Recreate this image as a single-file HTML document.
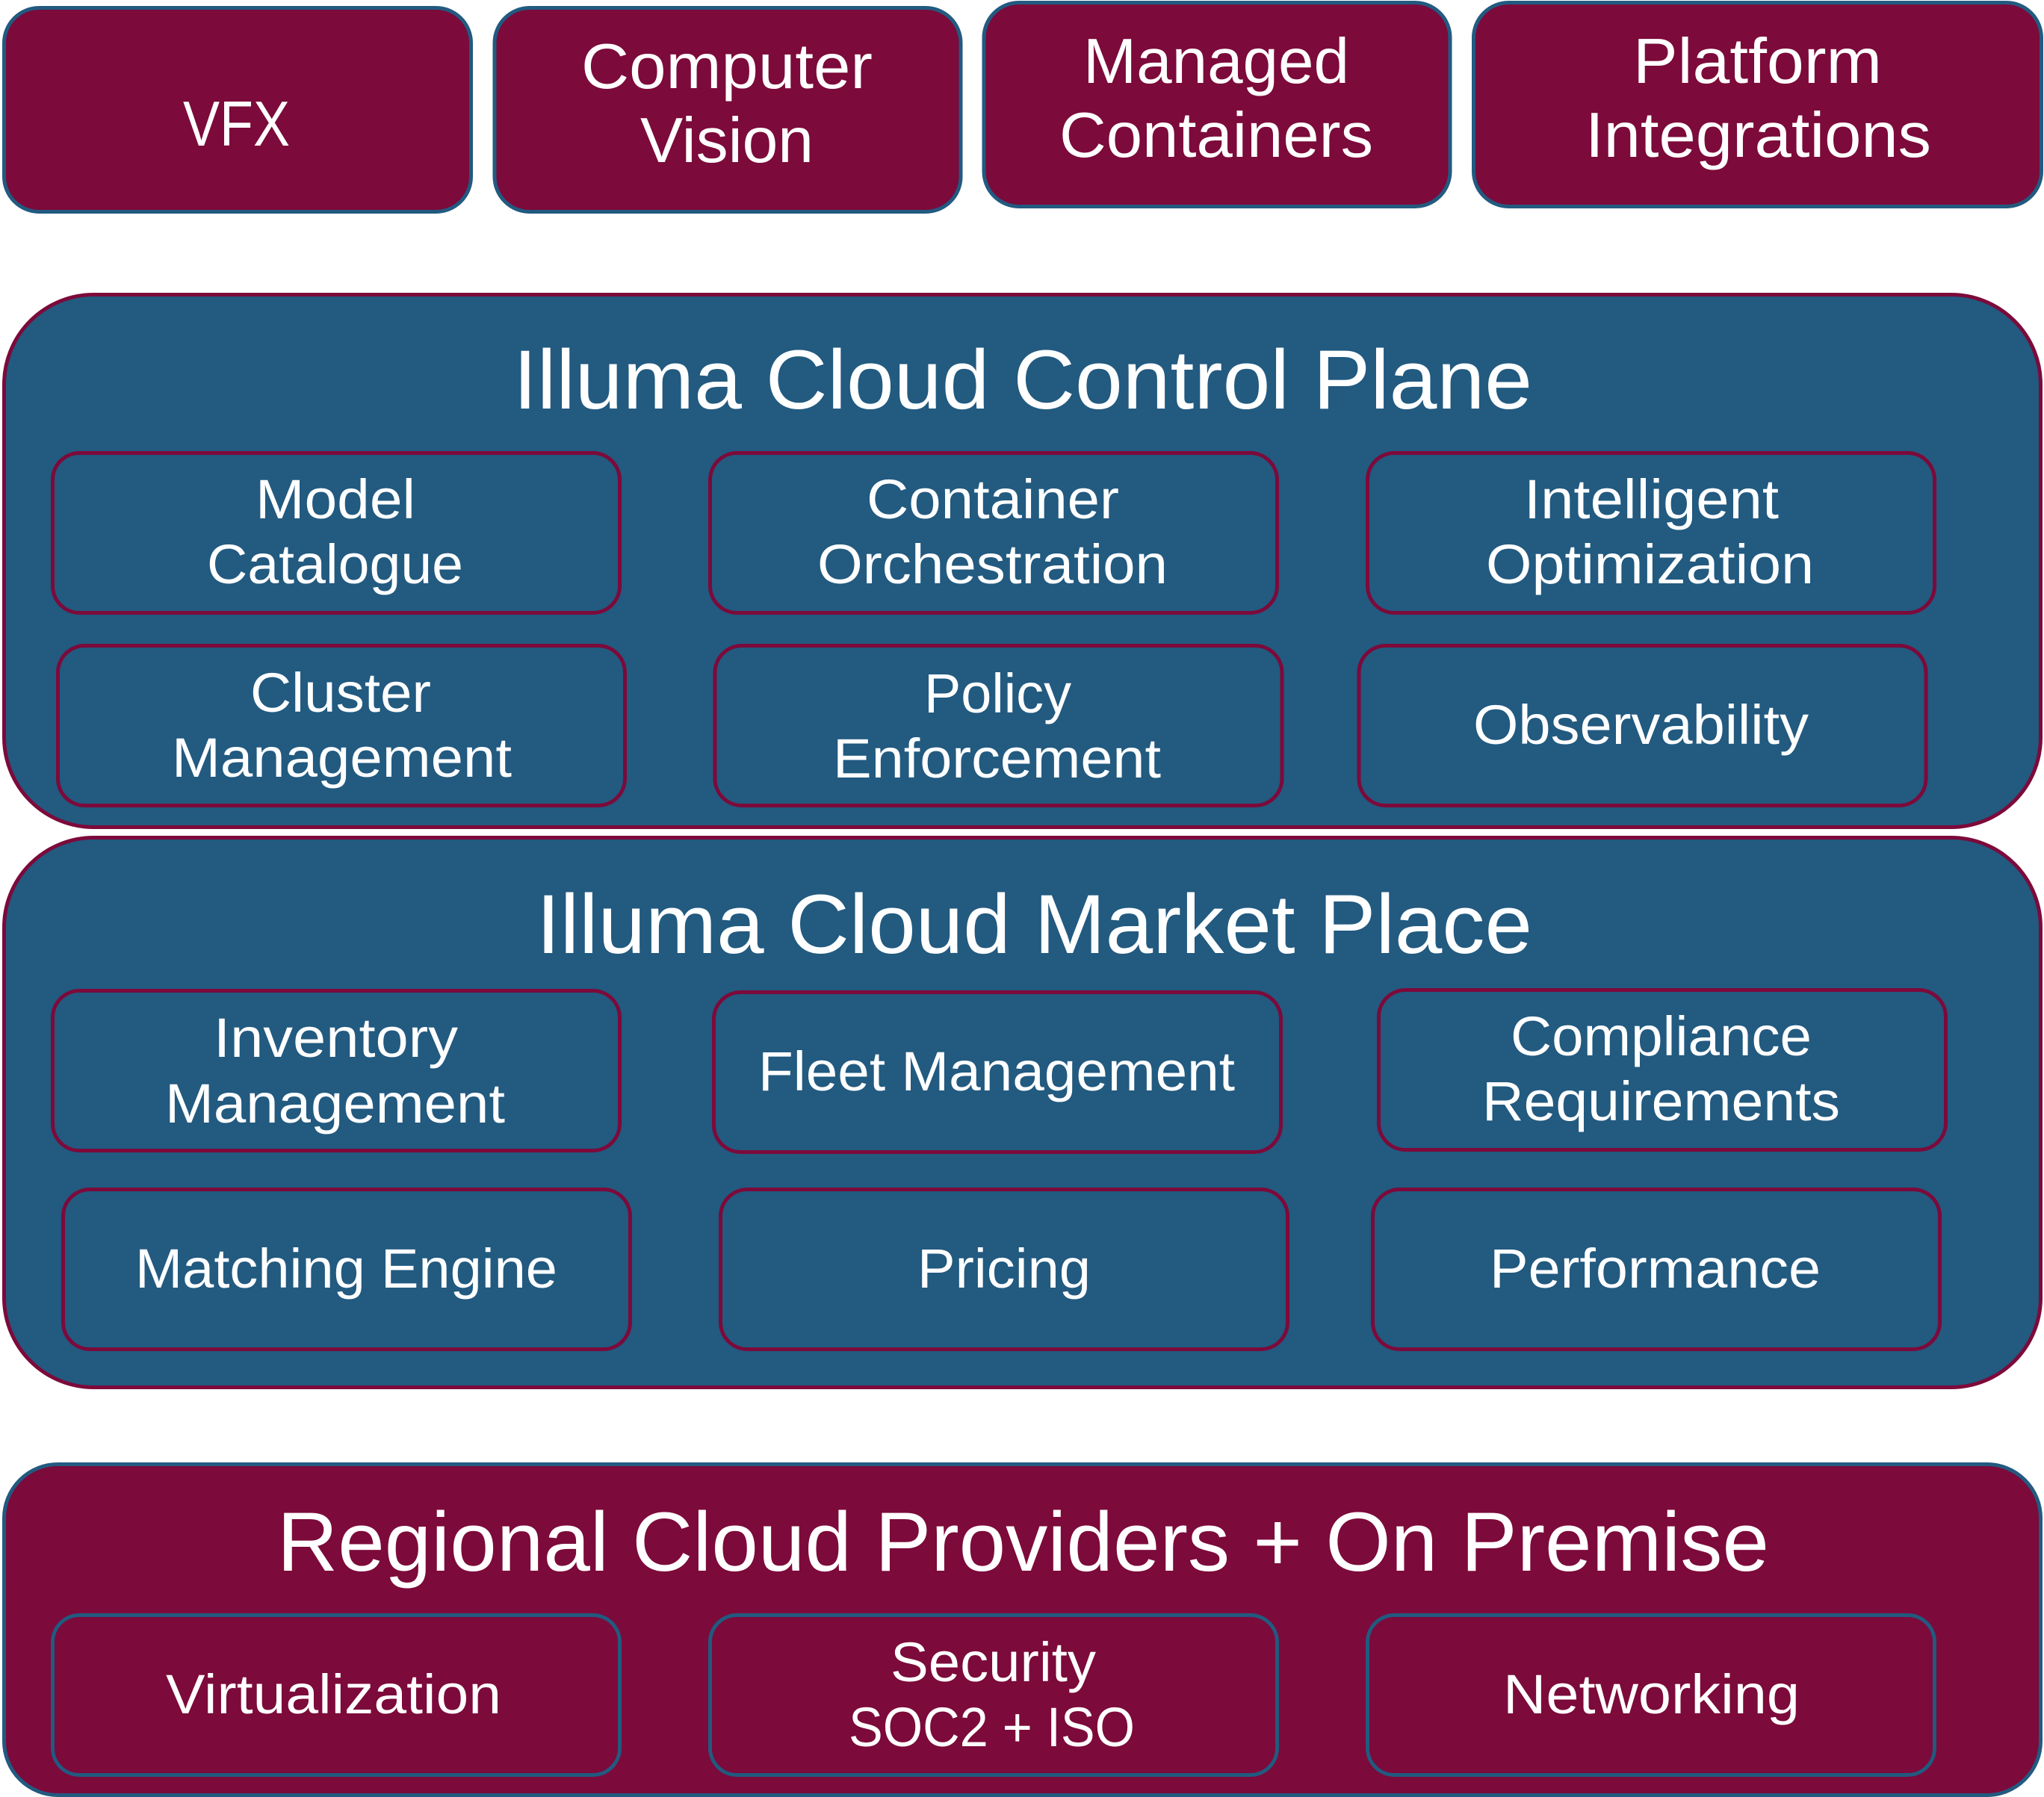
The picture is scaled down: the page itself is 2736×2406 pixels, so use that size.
<!DOCTYPE html>
<html lang="en">
<head>
<meta charset="utf-8">
<title>Illuma Cloud Architecture</title>
<style>
html,body{margin:0;padding:0;background:#fff;}
svg{display:block;}
text{font-family:"Liberation Sans",sans-serif;fill:#fff;}
.t{font-size:85px;}
.h{font-size:112px;}
.s{font-size:74px;}
.b{fill:#225A80;stroke:#7C0A3A;stroke-width:5;}
.m{fill:#7C0A3A;stroke:#225A80;stroke-width:5;}
</style>
</head>
<body>
<svg xmlns="http://www.w3.org/2000/svg" width="2736" height="2406" viewBox="0 0 2736 2406">
<rect width="2736" height="2406" fill="#fff"/>
<!-- Top row -->
<rect class="m" x="5.5" y="10.5" width="625" height="273" rx="47"/>
<rect class="m" x="662" y="10.5" width="624" height="273" rx="47"/>
<rect class="m" x="1317" y="3.5" width="624" height="273" rx="47"/>
<rect class="m" x="1972.5" y="3.5" width="760" height="273" rx="47"/>
<text class="t" x="245" y="195" textLength="143" lengthAdjust="spacingAndGlyphs">VFX</text>
<text class="t" x="778" y="118" textLength="390" lengthAdjust="spacingAndGlyphs">Computer</text>
<text class="t" x="857" y="217" textLength="232" lengthAdjust="spacingAndGlyphs">Vision</text>
<text class="t" x="1450" y="111" textLength="356" lengthAdjust="spacingAndGlyphs">Managed</text>
<text class="t" x="1418" y="210" textLength="420" lengthAdjust="spacingAndGlyphs">Containers</text>
<text class="t" x="2186" y="111" textLength="333" lengthAdjust="spacingAndGlyphs">Platform</text>
<text class="t" x="2122" y="210" textLength="463" lengthAdjust="spacingAndGlyphs">Integrations</text>

<!-- Control Plane -->
<rect class="b" x="5.5" y="394.5" width="2726" height="713" rx="120"/>
<text class="h" x="687" y="547" textLength="1364" lengthAdjust="spacingAndGlyphs">Illuma Cloud Control Plane</text>
<rect class="b" x="70.5" y="606.5" width="759" height="214" rx="36"/>
<rect class="b" x="950.5" y="606.5" width="759" height="214" rx="36"/>
<rect class="b" x="1830.5" y="606.5" width="759" height="214" rx="36"/>
<rect class="b" x="77.5" y="864.5" width="759" height="214" rx="36"/>
<rect class="b" x="957" y="864.5" width="759" height="214" rx="36"/>
<rect class="b" x="1819" y="864.5" width="759" height="214" rx="36"/>
<text class="s" x="342" y="694" textLength="214" lengthAdjust="spacingAndGlyphs">Model</text>
<text class="s" x="277" y="781" textLength="343" lengthAdjust="spacingAndGlyphs">Catalogue</text>
<text class="s" x="1160" y="694" textLength="338" lengthAdjust="spacingAndGlyphs">Container</text>
<text class="s" x="1094" y="781" textLength="469" lengthAdjust="spacingAndGlyphs">Orchestration</text>
<text class="s" x="2040" y="694" textLength="341" lengthAdjust="spacingAndGlyphs">Intelligent</text>
<text class="s" x="1989" y="781" textLength="439" lengthAdjust="spacingAndGlyphs">Optimization</text>
<text class="s" x="335" y="953" textLength="242" lengthAdjust="spacingAndGlyphs">Cluster</text>
<text class="s" x="230" y="1040" textLength="455" lengthAdjust="spacingAndGlyphs">Management</text>
<text class="s" x="1237" y="954" textLength="197" lengthAdjust="spacingAndGlyphs">Policy</text>
<text class="s" x="1115" y="1041" textLength="439" lengthAdjust="spacingAndGlyphs">Enforcement</text>
<text class="s" x="1972" y="996" textLength="449" lengthAdjust="spacingAndGlyphs">Observability</text>

<!-- Market Place -->
<rect class="b" x="5.5" y="1121.5" width="2726" height="736" rx="120"/>
<text class="h" x="718" y="1276" textLength="1333" lengthAdjust="spacingAndGlyphs">Illuma Cloud Market Place</text>
<rect class="b" x="70.5" y="1326.5" width="759" height="214" rx="36"/>
<rect class="b" x="955.5" y="1328.5" width="759" height="214" rx="36"/>
<rect class="b" x="1845.5" y="1325.5" width="759" height="214" rx="36"/>
<rect class="b" x="84.5" y="1592.5" width="759" height="214" rx="36"/>
<rect class="b" x="964.5" y="1592.5" width="759" height="214" rx="36"/>
<rect class="b" x="1837.5" y="1592.5" width="759" height="214" rx="36"/>
<text class="s" x="286" y="1415" textLength="327" lengthAdjust="spacingAndGlyphs">Inventory</text>
<text class="s" x="221" y="1503" textLength="455" lengthAdjust="spacingAndGlyphs">Management</text>
<text class="s" x="1015" y="1460" textLength="638" lengthAdjust="spacingAndGlyphs">Fleet Management</text>
<text class="s" x="2022" y="1413" textLength="403" lengthAdjust="spacingAndGlyphs">Compliance</text>
<text class="s" x="1984" y="1500" textLength="479" lengthAdjust="spacingAndGlyphs">Requirements</text>
<text class="s" x="181" y="1724" textLength="565" lengthAdjust="spacingAndGlyphs">Matching Engine</text>
<text class="s" x="1228" y="1724" textLength="232" lengthAdjust="spacingAndGlyphs">Pricing</text>
<text class="s" x="1994" y="1724" textLength="443" lengthAdjust="spacingAndGlyphs">Performance</text>

<!-- Regional -->
<rect class="m" x="5.5" y="1960.5" width="2726" height="443" rx="72"/>
<text class="h" x="371" y="2103" textLength="1997" lengthAdjust="spacingAndGlyphs">Regional Cloud Providers + On Premise</text>
<rect class="m" x="70.5" y="2162.5" width="759" height="214" rx="36"/>
<rect class="m" x="950.5" y="2162.5" width="759" height="214" rx="36"/>
<rect class="m" x="1830.5" y="2162.5" width="759" height="214" rx="36"/>
<text class="s" x="222" y="2294" textLength="449" lengthAdjust="spacingAndGlyphs">Virtualization</text>
<text class="s" x="1192" y="2251" textLength="275" lengthAdjust="spacingAndGlyphs">Security</text>
<text class="s" x="1136" y="2338" textLength="383" lengthAdjust="spacingAndGlyphs">SOC2 + ISO</text>
<text class="s" x="2012" y="2294" textLength="397" lengthAdjust="spacingAndGlyphs">Networking</text>
</svg>
</body>
</html>
